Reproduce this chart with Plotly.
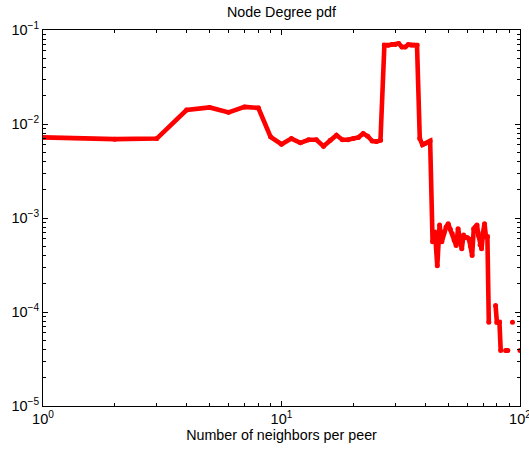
import plotly.graph_objects as go

# Node degree (number of neighbours per peer) and its empirical pdf.
# None marks degrees that never occur (zero probability -> gap on log axis).
degree = list(range(1, 101))
pdf = [
    0.0072, 0.0069, 0.0070, 0.0141, 0.0150, 0.0133, 0.0152, 0.0148, 0.0073, 0.0061,   # 1-10
    0.0070, 0.0063, 0.0068, 0.0068, 0.0058, 0.0067, 0.0076, 0.0068, 0.0068, 0.0070,   # 11-20
    0.0072, 0.0079, 0.0074, 0.0066, 0.0065, 0.0067, 0.069, 0.069, 0.070, 0.070,      # 21-30
    0.072, 0.066, 0.066, 0.070, 0.069, 0.069, 0.069, 0.0070, 0.0060, 0.0062,         # 31-40
    0.0064, 0.0066, 0.00056, 0.00071, 0.00031, 0.00084, 0.00056, 0.00071, 0.00080, 0.00087,  # 41-50
    0.00076, 0.00068, 0.00058, 0.00051, 0.00077, 0.00060, 0.00047, 0.00066, 0.00062, 0.00062,  # 51-60
    0.00060, 0.00050, 0.00040, 0.00077, 0.00080, 0.00084, 0.00065, 0.00052, 0.00047, 0.00070,  # 61-70
    0.00087, 0.00063, 0.00063, 7.8e-5, None, None, None, None, 1.17e-4, 7.8e-5,       # 71-80
    7.8e-5, 7.8e-5, 3.9e-5, None, None, None, 3.9e-5, 3.9e-5, 3.9e-5, None,           # 81-90
    None, None, 7.8e-5, None, None, None, None, None, None, 3.9e-5,                   # 91-100
]

x_tickvals = [1, 10, 100]
x_ticktext = ["10<sup>0</sup>", "10<sup>1</sup>", "10<sup>2</sup>"]
y_tickvals = [1e-5, 1e-4, 1e-3, 1e-2, 1e-1]
y_ticktext = ["10<sup>−5</sup>", "10<sup>−4</sup>", "10<sup>−3</sup>", "10<sup>−2</sup>", "10<sup>−1</sup>"]

FONT = "Liberation Sans, Arial, Helvetica, sans-serif"

fig = go.Figure(
    go.Scatter(
        x=degree,
        y=pdf,
        mode="lines+markers",
        line=dict(color="#ff0000", width=4.6),
        marker=dict(color="#ff0000", size=5),
        connectgaps=False,
        showlegend=False,
    )
)

axis_common = dict(
    type="log",
    showline=True,
    linecolor="black",
    linewidth=1,
    mirror="allticks",
    ticks="inside",
    ticklen=5,
    tickcolor="black",
    showgrid=False,
    zeroline=False,
    ticklabeloverflow="allow",
    tickfont=dict(family=FONT, size=14.5, color="black"),
    minor=dict(ticks="inside", ticklen=3, tickcolor="black", dtick="D1", showgrid=False),
)

fig.update_xaxes(
    **axis_common,
    range=[0, 2],
    tickvals=x_tickvals,
    ticktext=x_ticktext,
    title=dict(text="Number of neighbors per peer", font=dict(family=FONT, size=14.3, color="black"), standoff=2),
)
fig.update_yaxes(
    **axis_common,
    range=[-5, -1],
    tickvals=y_tickvals,
    ticktext=y_ticktext,
)

fig.update_layout(
    width=529,
    height=452,
    margin=dict(l=43, r=9, t=30, b=46, autoexpand=False),
    paper_bgcolor="white",
    plot_bgcolor="white",
    title=dict(
        text="Node Degree pdf",
        font=dict(family=FONT, size=14.3, color="black"),
        x=0.532,
        xanchor="center",
        yref="container",
        y=1 - 12 / 452,
        yanchor="middle",
    ),
)

fig.write_html("out.html")
